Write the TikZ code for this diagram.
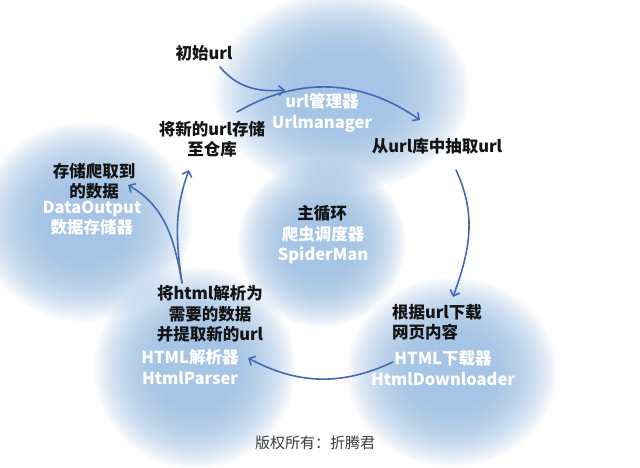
\documentclass[tikz,border=0pt]{standalone}
\usepackage{fontspec}
\setmainfont{Noto Sans CJK SC}
\usetikzlibrary{arrows.meta}
\begin{document}
\begin{tikzpicture}[x=1pt,y=1pt,
  desc/.style={text=textColor,align=center,inner sep=0pt,outer sep=0pt,font=\fontsize{16.5}{20.5}\selectfont\bfseries},
  modname/.style={desc,text=white},
  blob/.style={fill=blobColor,opacity=0.055},
  flow/.style={draw=flowColor,line width=1.6pt,line cap=round,-{Straight Barb[length=5pt,width=10pt]}}]
\definecolor{fillColor}{RGB}{255,255,255}
\definecolor{blobColor}{RGB}{153,191,230}
\definecolor{flowColor}{RGB}{70,105,180}
\definecolor{textColor}{RGB}{20,20,20}
\definecolor{noteColor}{RGB}{60,60,60}
\path[use as bounding box,fill=fillColor] (0,0) rectangle (640,467);

% blurred module discs: centre x/y, radius x/y
\foreach \cx/\cy/\rx/\ry in {342/375/122/95, 85/245/102/95, 322/224/80/80, 195/99/96/96, 452/95/100/90}
  \foreach \k in {0,...,29}
    \fill[blob] (\cx,\cy) ellipse [x radius={\rx*(1.05-0.022*\k)}, y radius={\ry*(1.05-0.022*\k)}];

% texts
\node[desc] (init) at (204,414) {初始url};
\node[modname] (manager) at (322,354) {url管理器\\Urlmanager};
\node[desc] (store) at (212,328) {将新的url存储\\至仓库};
\node[desc] (fetch) at (437,321) {从url库中抽取url};
\node[desc] (save) at ( 94,286) {存储爬取到\\的数据};
\node[modname] (output) at ( 92,249) {DataOutput\\数据存储器};
\node[desc] (loop) at (322,254) {主循环};
\node[modname] (spider) at (323,222) {爬虫调度器\\SpiderMan};
\node[desc] (parse) at (210,153) {将html解析为\\需要的数据\\并提取新的url};
\node[modname] (parser) at (190,100) {HTML解析器\\HtmlParser};
\node[desc,align=left,anchor=west] (download) at (392,145) {根据url下载\\网页内容};
\node[modname] (downloader) at (443, 99) {HTML下载器\\HtmlDownloader};
\node[text=noteColor,inner sep=0pt,font=\fontsize{15}{18}\selectfont] (note) at (315,24) {版权所有：折腾君};

% arrow ends
\coordinate (initTail) at (220,400);
\coordinate (initHead) at (285,377);
\coordinate (storeTail) at (237,355);
\coordinate (fetchHead) at (420,347);
\coordinate (fetchTail) at (456,297);
\coordinate (downHead) at (453,170);
\coordinate (downTail) at (393,105);
\coordinate (parseHead) at (248,109);
\coordinate (parseTail) at (182,184);
\coordinate (storeHead) at (189,297);
\coordinate (saveHead) at (128,282);

% flow
\draw[flow] (initTail) to[out=-50,in=185] (initHead);
\draw[flow] (storeTail) to[out=30,in=145] (fetchHead);
\draw[flow] (fetchTail) to[out=-65,in=70] (downHead);
\draw[flow] (downTail) to[out=205,in=-28] (parseHead);
\draw[flow] (parseTail) to[out=98,in=-110] (storeHead);
\draw[flow] (parseTail) to[out=100,in=-30] (saveHead);
\end{tikzpicture}
\end{document}
